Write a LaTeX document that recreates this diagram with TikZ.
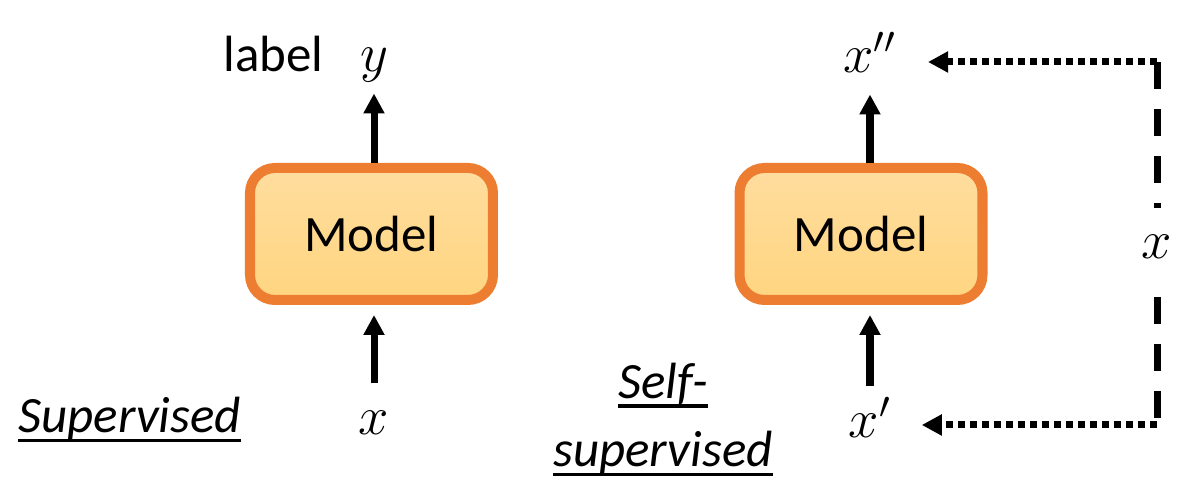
\RequirePackage{fix-cm}
\documentclass[tikz,border=0pt]{standalone}
\usepackage{fontspec}
\setmainfont{Carlito}
\usetikzlibrary{arrows.meta}
\definecolor{boxedge}{RGB}{237,125,49}
\definecolor{boxtop}{RGB}{255,221,158}
\definecolor{boxbot}{RGB}{255,213,128}
% underline a little below the baseline
\newcommand{\undl}[1]{\setbox0\hbox{#1}\leavevmode
  \rlap{\vrule width\wd0 height-1.6pt depth2.6pt}\box0}

\begin{document}
\begin{tikzpicture}[>={Triangle[length=0.2cm,width=0.2cm]}, line width=0.07cm,
    model/.style={draw=boxedge, line width=0.1cm, rounded corners=0.25cm,
      top color=boxtop, bottom color=boxbot,
      minimum width=2.43cm, minimum height=1.32cm, font=\fontsize{14.5}{17}\selectfont},
    var/.style={inner sep=0pt, text height=0.48cm, text depth=0.18cm,
      anchor=base, font=\fontsize{15.5}{18}\selectfont},
    txt/.style={inner sep=0pt, font=\fontsize{14.5}{19.5}\selectfont},
    dots/.style={dash pattern=on 0.07cm off 0.05cm},
    dashes/.style={dash pattern=on 0.27cm off 0.2cm}]
  \useasboundingbox (0,0) rectangle (11.88,5);
  % supervised
  \node[model] (mL) at (3.715,2.66) {Model};
  \node[var] (yL) at (3.74,4.28) {$y$};
  \node[var] (xL) at (3.74,0.65) {$x$};
  \node[txt, anchor=base east] (lab) at (3.27,4.28) {label};
  \node[txt, anchor=base west] (sup) at (0.15,0.67) {\undl{\textit{Supervised}}};
  \draw[->] (yL.south |- mL.north) -- (yL.south);
  \draw[->, shorten >=0.1cm] (xL.north) -- (xL.north |- mL.south);
  % self-supervised
  \node[model] (mR) at (8.61,2.66) {Model};
  \node[var] (xpp) at (8.70,4.27) {$x''$};
  \node[var] (xp) at (8.70,0.62) {$x'$};
  \node[txt, align=center, anchor=base] (self) at (6.63,0.33)
    {\undl{\textit{Self-}}\\\undl{\textit{supervised}}};
  \draw[->] (xpp.south |- mR.north) -- (xpp.south);
  \draw[->, shorten >=0.1cm] (xp.north) -- (xp.north |- mR.south);
  % x fed back round the right
  \coordinate (cTop) at (11.57,4.38);
  \coordinate (cBot) at (11.57,0.75);
  \draw[->, dots, shorten >=0.28cm] (cTop) -- (xpp.east |- cTop);
  \draw[->, dots, shorten >=0.27cm] (cBot) -- (xp.east |- cBot);
  \draw[dashes] (cTop) -- (cBot)
    node[var, midway, anchor=center, fill=white, inner ysep=0.02cm] (xR) {$x$};
\end{tikzpicture}
\end{document}
